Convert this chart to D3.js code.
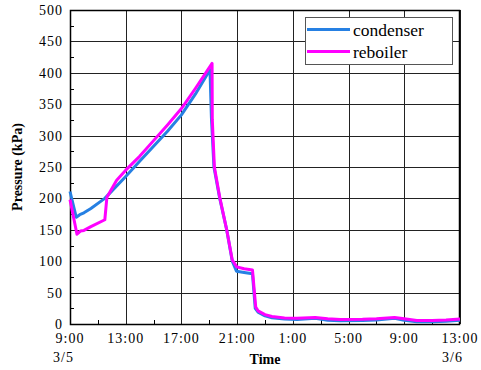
<!DOCTYPE html>
<html>
<head>
<meta charset="utf-8">
<script src="https://cdn.jsdelivr.net/npm/d3@7"></script>
<style>
  html, body { margin: 0; padding: 0; background: #fff; }
  svg { display: block; }
</style>
</head>
<body>
<div id="chart"></div>
<script>
// pressure readings, 3/5 09:00 -> 3/6 13:00
const condenserTime = [
  "03-05 09:00", "03-05 09:27", "03-05 09:42", "03-05 10:00", "03-05 10:30", "03-05 11:30",
  "03-05 13:00", "03-05 14:00", "03-05 15:00", "03-05 16:00", "03-05 17:00", "03-05 18:00",
  "03-05 19:03", "03-05 19:09", "03-05 19:20", "03-05 19:45", "03-05 20:15", "03-05 20:39",
  "03-05 20:57", "03-05 21:30", "03-05 22:06", "03-05 22:18", "03-05 22:30", "03-05 23:00",
  "03-05 23:30", "03-06 00:24", "03-06 01:18", "03-06 02:36", "03-06 03:30", "03-06 04:24",
  "03-06 06:00", "03-06 07:00", "03-06 08:18", "03-06 09:00", "03-06 09:54", "03-06 11:00",
  "03-06 12:00", "03-06 13:00"
];
const condenserKPa = [
  211, 170, 174, 177, 184, 200,
  235, 259, 283, 307, 333, 366,
  405, 330, 250, 200, 150, 100,
  84, 82, 80, 25, 19, 13,
  10, 8, 7, 9, 6, 5,
  5.5, 6.5, 9, 6, 3.5, 3.5,
  4.5, 6
];
const reboilerTime = [
  "03-05 09:00", "03-05 09:30", "03-05 09:45", "03-05 10:00", "03-05 10:30", "03-05 11:30",
  "03-05 11:39", "03-05 12:21", "03-05 13:00", "03-05 14:00", "03-05 15:00", "03-05 16:00",
  "03-05 17:00", "03-05 18:00", "03-05 19:12", "03-05 19:13", "03-05 19:22", "03-05 19:46",
  "03-05 20:15", "03-05 20:39", "03-05 20:58", "03-05 21:30", "03-05 22:06", "03-05 22:20",
  "03-05 22:30", "03-05 23:00", "03-05 23:30", "03-06 00:24", "03-06 01:18", "03-06 02:36",
  "03-06 03:30", "03-06 04:24", "03-06 06:00", "03-06 07:00", "03-06 08:18", "03-06 09:00",
  "03-06 09:54", "03-06 11:00", "03-06 12:00", "03-06 13:00"
];
const reboilerKPa = [
  198, 143, 148, 149, 155, 166,
  202, 229, 245, 267, 292, 317,
  343, 375, 415, 325, 250, 200,
  150, 102, 91, 88, 86, 27,
  21, 15, 12, 9.5, 9, 10.5,
  8.5, 7, 7.5, 8.5, 10.5, 8.5,
  5.5, 5.5, 6.5, 8
];
const xTickLabels = ["9:00", "13:00", "17:00", "21:00", "1:00", "5:00", "9:00", "13:00"];
const yTicks = [0, 50, 100, 150, 200, 250, 300, 350, 400, 450, 500];
const dayLabels = ["3/5", "3/6"];
const seriesNames = ["condenser", "reboiler"];

const width = 481, height = 370;
const m = { top: 10, right: 21, bottom: 46, left: 70 };
const parse = d3.timeParse("%m-%d %H:%M");
const t0 = parse("03-05 09:00"), t1 = parse("03-06 13:00");

const svg = d3.select("#chart").append("svg")
  .attr("width", width).attr("height", height)
  .style("font-family", '"Liberation Serif"');

const x = d3.scaleTime([t0, t1], [m.left, width - m.right]);
const y = d3.scaleLinear([0, 500], [height - m.bottom, m.top]);

// ticks every 4 h from the start, minor every 2 h
const major = xTickLabels.map((_, i) => d3.timeHour.offset(t0, 4 * i));
const minor = d3.range(1, 14, 2).map(i => d3.timeHour.offset(t0, 2 * i));
const px = v => Math.round(v) + 0.5;

// grid
const grid = svg.append("g").attr("stroke", "#222").attr("stroke-width", 1);
grid.selectAll(".gx").data(major).join("line")
  .attr("x1", d => px(x(d))).attr("x2", d => px(x(d)))
  .attr("y1", m.top).attr("y2", height - m.bottom);
grid.selectAll(".gy").data(yTicks).join("line")
  .attr("x1", m.left).attr("x2", width - m.right)
  .attr("y1", d => px(y(d))).attr("y2", d => px(y(d)));

// minor ticks
const minorY = d3.range(25, 500, 50);
svg.append("g").attr("stroke", "#000")
  .selectAll("line").data(minorY).join("line")
  .attr("x1", m.left).attr("x2", m.left + 4)
  .attr("y1", d => px(y(d))).attr("y2", d => px(y(d)));
svg.append("g").attr("stroke", "#000")
  .selectAll("line").data(minor).join("line")
  .attr("x1", d => px(x(d))).attr("x2", d => px(x(d)))
  .attr("y1", height - m.bottom).attr("y2", height - m.bottom - 4);

// frame
svg.append("rect")
  .attr("x", m.left + 0.5).attr("y", m.top + 0.5)
  .attr("width", width - m.left - m.right - 1).attr("height", height - m.top - m.bottom)
  .attr("fill", "none").attr("stroke", "#000").attr("stroke-width", 1.5);

// tick labels
const tickText = sel => sel.style("font-size", "14px").style("letter-spacing", "1px");
svg.append("g").call(tickText)
  .selectAll("text").data(yTicks).join("text")
  .attr("x", m.left - 7).attr("y", d => y(d)).attr("dy", "0.35em")
  .attr("text-anchor", "end").text(d => d);
svg.append("g").call(tickText)
  .selectAll("text").data(major).join("text")
  .attr("x", d => x(d)).attr("y", height - m.bottom + 19)
  .attr("text-anchor", "middle").text((d, i) => xTickLabels[i]);
svg.append("text").call(tickText)
  .attr("x", x(t0) - 17).attr("y", 362).text(dayLabels[0]);
svg.append("text").call(tickText)
  .attr("x", x(t1) + 3).attr("y", 362).attr("text-anchor", "end").text(dayLabels[1]);

// axis titles
svg.append("text").style("font-size", "14px").style("font-weight", "bold")
  .attr("x", 265).attr("y", 364).attr("text-anchor", "middle").text("Time");
svg.append("text").style("font-size", "14px").style("font-weight", "bold")
  .attr("transform", `translate(22,${(m.top + height - m.bottom) / 2}) rotate(-90)`)
  .attr("text-anchor", "middle").text("Pressure (kPa)");

// series: condenser under, reboiler on top
const colors = ["#2680e3", "#ff00ff"];
const line = d3.line().x(d => x(d[0])).y(d => y(d[1]));
const series = [
  condenserTime.map((t, i) => [parse(t), condenserKPa[i]]),
  reboilerTime.map((t, i) => [parse(t), reboilerKPa[i]])
];
series.forEach((s, i) => {
  svg.append("path").attr("d", line(s))
    .attr("fill", "none").attr("stroke", colors[i]).attr("stroke-width", 3)
    .attr("stroke-linejoin", "round");
});

// legend
const lg = svg.append("g");
lg.append("rect").attr("x", 305.5).attr("y", 17.5).attr("width", 147).attr("height", 47)
  .attr("fill", "#fff").attr("stroke", "#555").attr("stroke-width", 1);
seriesNames.forEach((n, i) => {
  const ly = 29.5 + i * 22;
  lg.append("line").attr("x1", 307).attr("x2", 350).attr("y1", ly).attr("y2", ly)
    .attr("stroke", colors[i]).attr("stroke-width", 3);
  lg.append("text").style("font-size", "17.5px")
    .attr("x", 353).attr("y", ly + 6).text(n);
});
</script>
</body>
</html>
